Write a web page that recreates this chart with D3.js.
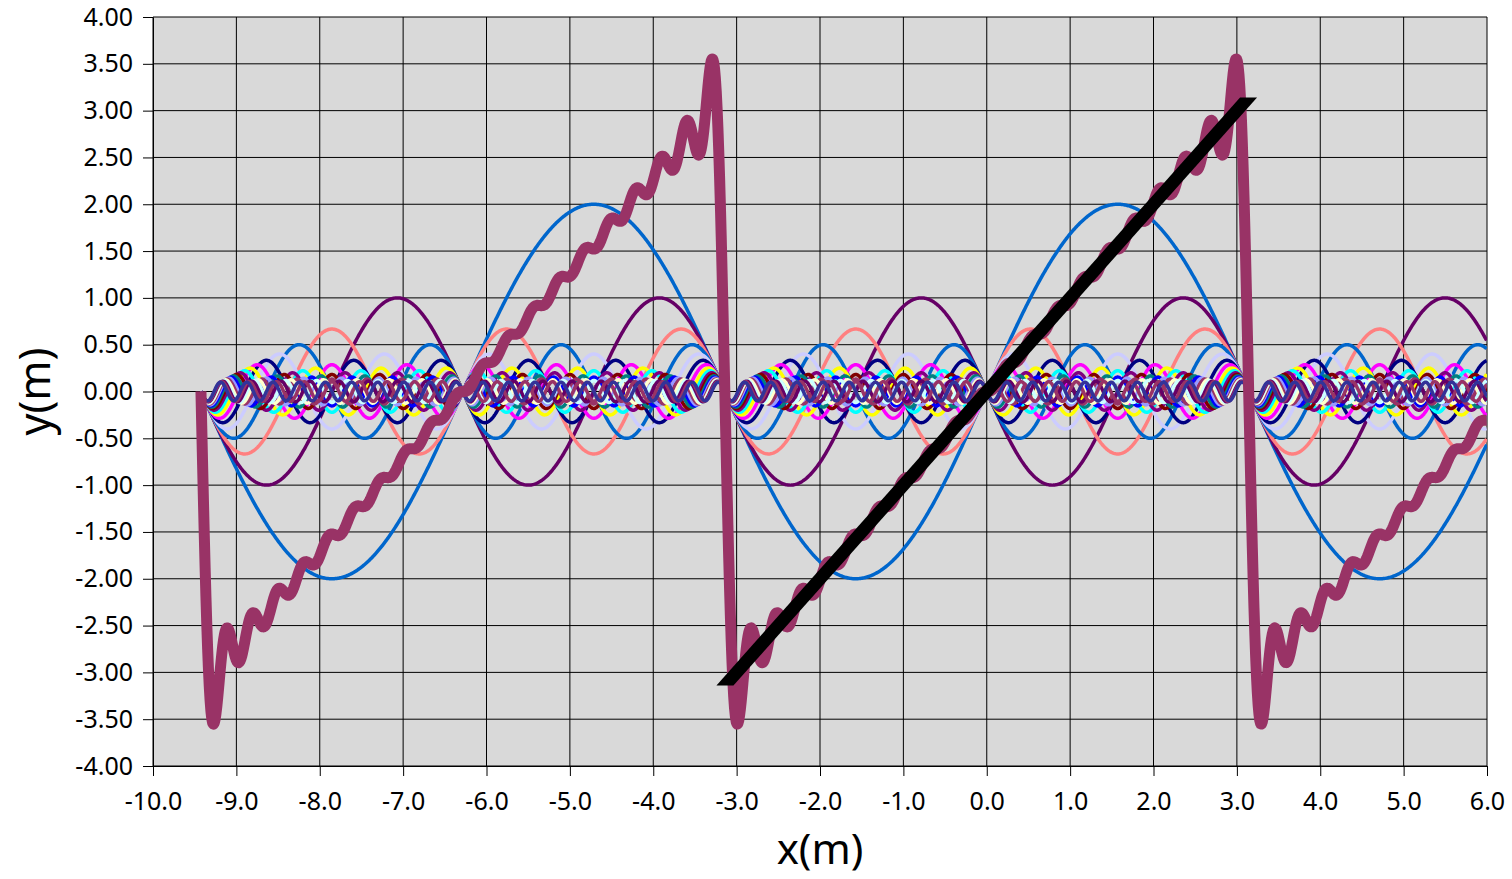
<!DOCTYPE html>
<html>
<head>
<meta charset="utf-8">
<script src="https://cdn.jsdelivr.net/npm/d3@7"></script>
<style>
  body { margin: 0; background: #fff; }
  text { font-family: "Noto Sans", "Open Sans", sans-serif; fill: #000; }
</style>
</head>
<body>
<div id="chart"></div>
<script>
// harmonics of the sawtooth series, n and signed amplitude
const harmonicN = [1, 2, 3, 4, 5, 6, 7, 8, 9, 10, 11, 12, 13, 14, 15, 16, 17, 18, 19, 20];
const harmonicAmp = [2, -1, 0.667, -0.5, 0.4, -0.333, 0.286, -0.25, 0.222, -0.2,
                     0.182, -0.167, 0.154, -0.143, 0.133, -0.125, 0.118, -0.111, 0.105, -0.1];
const harmonicColor = ['#0066CC', '#660066', '#FF8080', '#0066CC', '#CCCCFF', '#000080', '#FF00FF',
                       '#FFFF00', '#00FFFF', '#800080', '#800000', '#008080', '#0000FF', '#9999FF',
                       '#993366', '#FFFFCC', '#CCFFFF', '#660066', '#993366', '#333399'];
const xStart = -9.4248, xEnd = 6.0, xStep = 0.01;
// straight reference line y = x
const lineX = [-3.14, 3.14];

const xTicks = [-10, -9, -8, -7, -6, -5, -4, -3, -2, -1, 0, 1, 2, 3, 4, 5, 6];
const yTicks = [-4, -3.5, -3, -2.5, -2, -1.5, -1, -0.5, 0, 0.5, 1, 1.5, 2, 2.5, 3, 3.5, 4];

const width = 1512, height = 879;
const margin = {top: 17, right: 25, bottom: 113, left: 153};

const svg = d3.select('#chart').append('svg')
  .attr('width', width)
  .attr('height', height);

const x = d3.scaleLinear().domain([-10, 6]).range([margin.left, width - margin.right]);
const y = d3.scaleLinear().domain([-4, 4]).range([height - margin.bottom, margin.top]);

svg.append('rect')
  .attr('x', x(-10)).attr('y', y(4))
  .attr('width', x(6) - x(-10)).attr('height', y(-4) - y(4))
  .attr('fill', '#D9D9D9');

svg.append('clipPath').attr('id', 'plotClip')
  .append('rect')
  .attr('x', x(-10)).attr('y', y(4))
  .attr('width', x(6) - x(-10)).attr('height', y(-4) - y(4));

// grid
svg.append('g').selectAll('line.v')
  .data(xTicks).join('line')
  .attr('x1', d => x(d)).attr('x2', d => x(d))
  .attr('y1', y(-4)).attr('y2', y(4))
  .attr('stroke', '#000').attr('stroke-width', 1);
svg.append('g').selectAll('line.h')
  .data(yTicks).join('line')
  .attr('x1', x(-10)).attr('x2', x(6))
  .attr('y1', d => y(d)).attr('y2', d => y(d))
  .attr('stroke', '#000').attr('stroke-width', 1);

// sample points
const xs = d3.range(xStart, xEnd + xStep / 2, xStep);

const series = harmonicN.map((n, i) => ({
  color: harmonicColor[i],
  pts: xs.map(v => [v, harmonicAmp[i] * Math.sin(n * v)])
}));
const sumPts = xs.map((v, j) => [v, d3.sum(series, s => s.pts[j][1])]);

const line = d3.line().x(d => x(d[0])).y(d => y(d[1]));

const plot = svg.append('g').attr('clip-path', 'url(#plotClip)');

plot.selectAll('path.harm')
  .data(series).join('path')
  .attr('class', 'harm')
  .attr('d', d => line(d.pts))
  .attr('fill', 'none')
  .attr('stroke', d => d.color)
  .attr('stroke-width', 3.5)
  .attr('stroke-linejoin', 'round');

plot.append('path')
  .attr('d', line(sumPts))
  .attr('fill', 'none')
  .attr('stroke', '#993366')
  .attr('stroke-width', 11)
  .attr('stroke-linejoin', 'round');

// thick black y = x band, flat horizontal ends
const band = d3.area()
  .y(d => y(d))
  .x0(d => x(d) - 8.5)
  .x1(d => x(d) + 8.5);
plot.append('path')
  .attr('d', band(lineX))
  .attr('fill', '#000');

// axes
svg.append('g')
  .attr('transform', `translate(${x(-10)},0)`)
  .call(d3.axisLeft(y).tickValues(yTicks).tickFormat(d => d.toFixed(2))
    .tickSize(10).tickSizeOuter(0).tickPadding(10))
  .call(g => g.selectAll('text').style('font-size', '25px').attr('font-family', null))
  .call(g => g.selectAll('line, path').attr('stroke', '#000'));

svg.append('g')
  .attr('transform', `translate(0,${y(-4)})`)
  .call(d3.axisBottom(x).tickValues(xTicks).tickFormat(d => d.toFixed(1))
    .tickSize(10).tickSizeOuter(0).tickPadding(16))
  .call(g => g.selectAll('text').style('font-size', '25px').attr('font-family', null))
  .call(g => g.selectAll('line, path').attr('stroke', '#000'));

svg.append('text')
  .attr('x', (x(-10) + x(6)) / 2)
  .attr('y', 849)
  .attr('dy', '0.35em')
  .attr('text-anchor', 'middle')
  .style('font-size', '42px')
  .text('x(m)');

svg.append('text')
  .attr('transform', `translate(35,${y(0)}) rotate(-90)`)
  .attr('dy', '0.35em')
  .attr('text-anchor', 'middle')
  .style('font-size', '43px')
  .text('y(m)');
</script>
</body>
</html>
